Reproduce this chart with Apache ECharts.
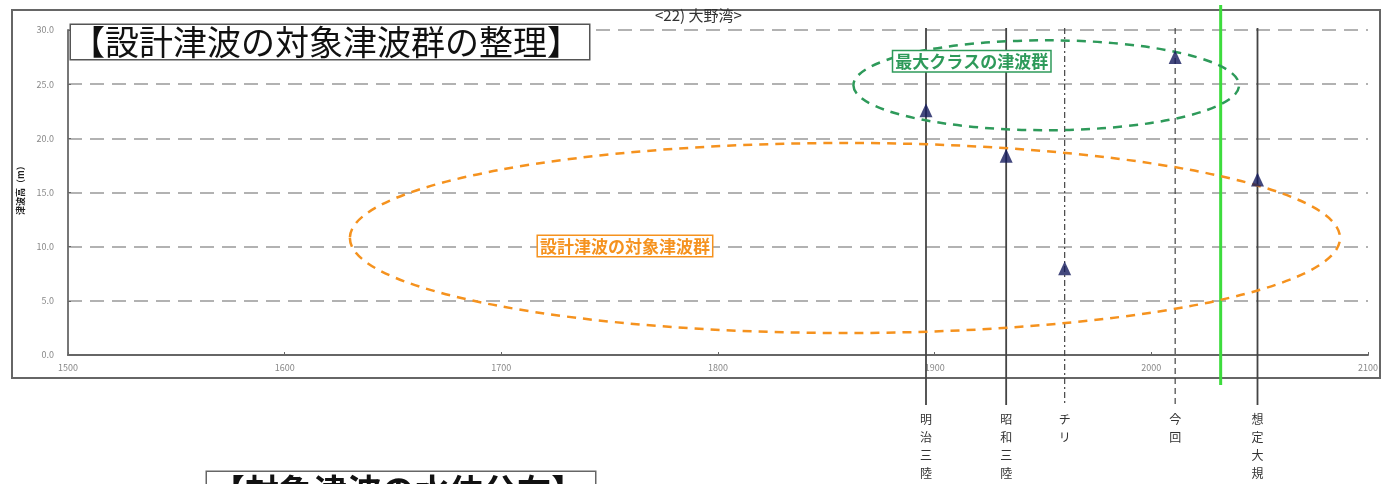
<!DOCTYPE html>
<html><head><meta charset="utf-8">
<script src="https://cdn.jsdelivr.net/npm/echarts@6/dist/echarts.min.js"></script>
<style>html,body{margin:0;padding:0;background:#fff}#c{width:1389px;height:484px}</style>
</head><body><div id="c"></div>
<script>
// ---- data ----
const events = ['明治三陸', '昭和三陸', 'チリ', '今回', '想定大規'];
const eventYears = [1896, 1933, 1960, 2011, 2049];
const heights = [22.6, 18.4, 8.0, 27.5, 16.2];
const lineKinds = ['solid', 'solid', 'dashdot', 'dashed', 'solid'];
const xTicks = [1500, 1600, 1700, 1800, 1900, 2000, 2100];
const yTicks = [0, 5, 10, 15, 20, 25, 30];
const greenYear = [2032];
// annotation ellipses: [centerYear, centerValue, halfWidthYears, halfHeightValue]
const orangeEllipse = [1858.6, 10.8, 228.5, 8.77];
const greenEllipse = [1951.5, 24.9, 89, 4.15];

const chart = echarts.init(document.getElementById('c'));
const FONT = '"Noto Sans CJK JP", "Noto Sans", sans-serif';

function ellipseSeries(ell, color, text, tx, ty) {
  return {
    type: 'custom', silent: true, z: 4, clip: false,
    data: [ell],
    renderItem: function (params, api) {
      const c = api.coord([api.value(0), api.value(1)]);
      const e = api.coord([api.value(0) + api.value(2), api.value(1) + api.value(3)]);
      const rx = e[0] - c[0], ry = c[1] - e[1];
      const d = 'M' + (c[0] - rx) + ' ' + c[1] + ' A' + rx + ' ' + ry + ' 0 1 0 ' + (c[0] + rx) + ' ' + c[1] +
        ' A' + rx + ' ' + ry + ' 0 1 0 ' + (c[0] - rx) + ' ' + c[1] + ' Z';
      return {
        type: 'group', children: [
          { type: 'path', shape: { pathData: d }, style: { fill: 'none', stroke: color, lineWidth: 2.5, lineDash: [9, 7] } },
          { type: 'text', x: c[0] + tx, y: c[1] + ty,
            style: { text: text, fill: color, font: 'bold 17px ' + FONT, backgroundColor: '#fff',
              borderColor: color, borderWidth: 1.5, padding: [2, 2, 1, 2] } }
        ]
      };
    }
  };
}

chart.setOption({
  animation: false,
  grid: { left: 68, right: 21, top: 30, bottom: 129 },
  graphic: [
    { type: 'rect', shape: { x: 12, y: 10, width: 1368, height: 368 }, style: { fill: 'none', stroke: '#666', lineWidth: 2 }, z: 0 },
    { type: 'text', x: 655, y: 8, style: { text: '<22) 大野湾>', font: '15px ' + FONT, fill: '#333' }, z: 10 },
    { type: 'text', x: 71, y: 25, style: { text: '【設計津波の対象津波群の整理】', font: '34px ' + FONT, fill: '#111',
      backgroundColor: '#fff', borderColor: '#555', borderWidth: 1.5, padding: [0, 8, 0, 0] }, z: 10 },
    { type: 'text', x: 207, y: 472, style: { text: '【対象津波の水位分布】', font: 'bold 34px ' + FONT, fill: '#111',
      backgroundColor: '#fff', borderColor: '#666', borderWidth: 1.5, padding: [2, 10, 4, 4] }, z: 10 },
    { type: 'text', x: 16, y: 215, rotation: Math.PI / 2, style: { text: '津波高（m）', font: 'bold 9px ' + FONT, fill: '#222' }, z: 10 }
  ],
  xAxis: {
    type: 'value', min: 1500, max: 2100, interval: 100,
    axisLine: { show: true, onZero: false, lineStyle: { color: '#666', width: 2 } },
    axisTick: { show: true, length: 3, inside: true, lineStyle: { color: '#666' } },
    axisLabel: { color: '#888', fontSize: 9, margin: 8, fontFamily: FONT,
      formatter: v => xTicks.indexOf(v) >= 0 ? String(v) : '' },
    splitLine: { show: false }
  },
  yAxis: {
    type: 'value', min: 0, max: 30, interval: 5,
    axisLine: { show: true, lineStyle: { color: '#777', width: 2 } },
    axisTick: { show: true, length: 3, inside: true, lineStyle: { color: '#666' } },
    axisLabel: { color: '#888', fontSize: 9, margin: 14, fontFamily: FONT,
      formatter: v => yTicks.indexOf(v) >= 0 ? v.toFixed(1) : '' },
    splitLine: { show: true, lineStyle: { color: '#999', width: 1.5, type: [14, 8] } }
  },
  series: [
    {
      type: 'custom', silent: true, z: 2, clip: false,
      data: eventYears.map((y, i) => [y, i]),
      renderItem: function (params, api) {
        const i = api.value(1);
        const top = api.coord([api.value(0), 30]);
        const bot = api.coord([api.value(0), 0]);
        const kind = lineKinds[i];
        const dash = kind === 'dashed' ? [6, 4] : kind === 'dashdot' ? [6, 3, 2, 3] : null;
        const width = kind === 'solid' ? 1.8 : 1.2;
        return {
          type: 'group', children: [
            { type: 'line', shape: { x1: top[0], y1: top[1] - 2, x2: top[0], y2: bot[1] + 50 },
              style: { stroke: '#444', lineWidth: width, lineDash: dash } },
            { type: 'text', x: top[0], y: bot[1] + 55,
              style: { text: events[i].split('').join('\n'), font: '12px ' + FONT, fill: '#333',
                align: 'center', verticalAlign: 'top', lineHeight: 18 } }
          ]
        };
      }
    },
    {
      type: 'custom', silent: true, z: 3, clip: false,
      data: greenYear.map(y => [y]),
      renderItem: function (params, api) {
        const top = api.coord([api.value(0), 30]);
        const bot = api.coord([api.value(0), 0]);
        return { type: 'line', shape: { x1: top[0], y1: top[1] - 25, x2: top[0], y2: bot[1] + 30 },
          style: { stroke: '#3ddc3d', lineWidth: 3 } };
      }
    },
    ellipseSeries(orangeEllipse, '#f5921e', '設計津波の対象津波群', -307, -2),
    ellipseSeries(greenEllipse, '#2e9a5a', '最大クラスの津波群', -153, -34),
    {
      type: 'scatter', z: 6, symbol: 'triangle', symbolSize: [13, 14],
      itemStyle: { color: '#141a5c' },
      data: eventYears.map((y, i) => [y, heights[i]])
    }
  ]
});
</script></body></html>
